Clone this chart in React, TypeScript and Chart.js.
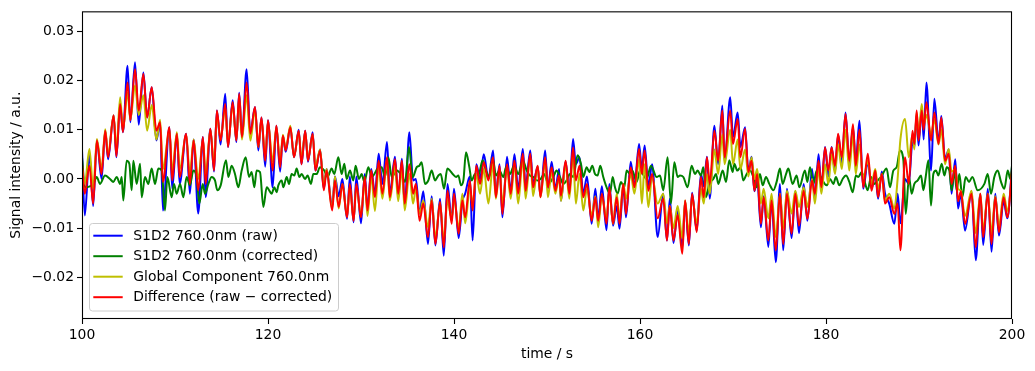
import React, { useEffect, useRef } from "react";
import { Chart, registerables } from "chart.js";

Chart.register(...registerables);

// ---------------- data ----------------
const seriesLabels = [
  "S1D2 760.0nm (raw)",
  "S1D2 760.0nm (corrected)",
  "Global Component 760.0nm",
  "Difference (raw \u2212 corrected)",
];

const xTicks = [100, 120, 140, 160, 180, 200];
const xTickLabels = ["100", "120", "140", "160", "180", "200"];
const yTicks = [-0.02, -0.01, 0.0, 0.01, 0.02, 0.03];
const yTickLabels = ["\u22120.02", "\u22120.01", "0.00", "0.01", "0.02", "0.03"];

// time stamps (s) of the turning points of raw / global / difference traces
const rawTimes = [
  100.0, 100.3, 100.8, 101.2, 101.6, 102.1, 102.5, 102.8, 103.4, 103.7,
  104.1, 104.4, 104.9, 105.2, 105.7, 106.1, 106.6, 107.0, 107.5, 108.0,
  108.4, 108.7, 109.4, 109.7, 110.2, 110.5, 111.2, 111.6, 112.0, 112.5,
  113.0, 113.3, 113.8, 114.2, 114.5, 114.9, 115.4, 115.7, 116.2, 116.6,
  116.9, 117.2, 117.7, 118.1, 118.6, 118.96, 119.3, 119.7, 120.0, 120.5,
  120.9, 121.3, 121.6, 121.9, 122.4, 122.8, 123.3, 123.6, 124.0, 124.3,
  124.8, 125.1, 125.6, 126.0, 126.3, 126.9, 127.2, 127.6, 128.0, 128.5,
  128.8, 129.2, 129.5, 130.0, 130.4, 130.7, 131.1, 131.5, 131.9, 132.3,
  132.8, 133.1, 133.65, 134.0, 134.4, 134.7, 135.2, 135.6, 135.9, 136.3,
  136.7, 137.2, 137.6, 138.0, 138.5, 138.9, 139.3, 139.75, 140.0, 140.5,
  140.9, 141.2, 141.7, 142.0, 142.4, 142.8, 143.2, 143.7, 144.2, 144.5,
  144.9, 145.2, 145.7, 146.1, 146.5, 146.9, 147.4, 147.7, 148.2, 148.5,
  149.0, 149.3, 149.8, 150.1, 150.5, 150.9, 151.3, 151.5, 152.0, 152.4,
  152.8, 153.1, 153.5, 153.9, 154.3, 154.8, 155.2, 155.5, 155.9, 156.4,
  156.7, 157.1, 157.5, 157.8, 158.2, 158.5, 159.0, 159.4, 159.9, 160.2,
  160.5, 160.9, 161.3, 161.9, 162.5, 162.9, 163.2, 163.6, 164.05, 164.55,
  164.85, 165.25, 165.6, 166.1, 166.55, 166.85, 167.2, 167.5, 168.0, 168.4,
  168.85, 169.1, 169.7, 170.0, 170.5, 170.8, 171.3, 171.65, 172.0, 172.3,
  172.6, 173.0, 173.3, 173.8, 174.15, 174.6, 175.05, 175.4, 175.8, 176.3,
  176.7, 177.1, 177.6, 178.0, 178.5, 178.8, 179.2, 179.5, 179.9, 180.25,
  180.6, 180.97, 181.3, 181.7, 182.1, 182.5, 182.9, 183.2, 183.6, 184.0,
  184.5, 184.9, 185.3, 185.6, 186.0, 186.35, 186.8, 187.35, 187.7, 188.0,
  188.5, 188.9, 189.3, 189.5, 189.75, 189.95, 190.3, 190.5, 190.8, 191.3,
  191.65, 192.1, 192.4, 192.8, 193.2, 193.5, 193.9, 194.2, 194.5, 194.95,
  195.65, 196.1, 196.6, 196.9, 197.4, 197.8, 198.2, 198.6, 199.1, 199.5,
  200.0,
];

const rawValues = [
  5.8e-3, -7.4e-3, 5.0e-3, -5.5e-3, 7.8e-3, 0.0e-3, 9.8e-3, 4.0e-3, 12.9e-3, 4.4e-3,
  15.2e-3, 9.5e-3, 23.0e-3, 11.5e-3, 23.7e-3, 11.0e-3, 21.6e-3, 12.5e-3, 18.6e-3, 7.8e-3,
  11.5e-3, -6.4e-3, 10.5e-3, -2.0e-3, 9.2e-3, -1.0e-3, 9.2e-3, -3.0e-3, 8.0e-3, -7.0e-3,
  8.5e-3, -3.7e-3, 10.2e-3, 1.5e-3, 13.9e-3, 7.0e-3, 17.3e-3, 6.5e-3, 16.0e-3, 7.5e-3,
  17.5e-3, 8.5e-3, 22.3e-3, 9.2e-3, 14.6e-3, 5.8e-3, 12.5e-3, 2.5e-3, 11.9e-3, -1.7e-3,
  10.8e-3, 1.5e-3, 8.8e-3, 5.5e-3, 10.5e-3, 4.4e-3, 10.0e-3, 3.0e-3, 9.8e-3, 3.5e-3,
  9.5e-3, 1.7e-3, 6.0e-3, -2.0e-3, 2.0e-3, -5.5e-3, 0.5e-3, -3.5e-3, 0.0e-3, -8.1e-3,
  0.5e-3, -8.8e-3, 0.5e-3, -9.0e-3, 1.0e-3, -6.0e-3, 2.0e-3, -3.0e-3, 5.1e-3, -1.0e-3,
  7.5e-3, -3.0e-3, 4.5e-3, -3.7e-3, 4.1e-3, -5.5e-3, 9.5e-3, -0.3e-3, 0.0e-3, -7.0e-3,
  -2.5e-3, -13.2e-3, -3.5e-3, -13.5e-3, -4.0e-3, -15.6e-3, -1.0e-3, -8.5e-3, -2.0e-3, -12.0e-3,
  -4.5e-3, -3.0e-3, 0.5e-3, -12.5e-3, 3.0e-3, 0.0e-3, 5.0e-3, 0.0e-3, 5.8e-3, -3.0e-3,
  3.0e-3, -7.8e-3, 4.5e-3, -2.5e-3, 5.0e-3, -2.0e-3, 6.1e-3, -1.5e-3, 5.8e-3, -1.0e-3,
  2.5e-3, -3.5e-3, 5.8e-3, -2.0e-3, 3.5e-3, -2.0e-3, 2.0e-3, -4.4e-3, 3.5e-3, -2.5e-3,
  8.1e-3, 3.0e-3, 4.4e-3, -3.0e-3, 0.5e-3, -9.1e-3, -2.0e-3, -8.0e-3, -1.5e-3, -10.4e-3,
  -1.0e-3, -9.5e-3, -5.5e-3, -10.1e-3, -1.5e-3, -7.8e-3, 3.5e-3, -1.5e-3, 7.1e-3, 2.0e-3,
  6.8e-3, -1.5e-3, 3.0e-3, -11.8e-3, -3.0e-3, -12.5e-3, -4.0e-3, -13.0e-3, -6.5e-3, -14.0e-3,
  -4.5e-3, -13.5e-3, -2.8e-3, -10.5e-3, 1.0e-3, -1.5e-3, 4.5e-3, -4.0e-3, 10.8e-3, 3.0e-3,
  14.9e-3, 3.5e-3, 16.6e-3, 8.5e-3, 13.5e-3, 6.5e-3, 10.5e-3, 1.5e-3, 4.5e-3, -2.5e-3,
  0.0e-3, -9.8e-3, -3.5e-3, -13.8e-3, -4.5e-3, -16.9e-3, -1.0e-3, -14.5e-3, -2.0e-3, -12.0e-3,
  -2.5e-3, -11.0e-3, -1.0e-3, -8.5e-3, 2.0e-3, -4.0e-3, 5.0e-3, -2.0e-3, 6.5e-3, 0.5e-3,
  6.5e-3, 1.5e-3, 9.0e-3, 3.0e-3, 13.5e-3, 3.0e-3, 10.5e-3, 3.5e-3, 11.8e-3, -2.0e-3,
  3.5e-3, -2.0e-3, 1.0e-3, -4.0e-3, 1.5e-3, -3.0e-3, -5.0e-3, -9.1e-3, -3.0e-3, -9.0e-3,
  0.0e-3, -1.0e-3, 7.5e-3, 6.5e-3, 13.0e-3, 6.8e-3, 14.5e-3, 8.0e-3, 19.6e-3, 1.7e-3,
  16.3e-3, 7.5e-3, 12.8e-3, 4.0e-3, 6.0e-3, -3.0e-3, 4.0e-3, -6.0e-3, -3.0e-3, -10.5e-3,
  -2.5e-3, -16.5e-3, -3.0e-3, -13.4e-3, -2.0e-3, -14.8e-3, -3.0e-3, -11.5e-3, -4.5e-3, -8.0e-3,
  2.4e-3,
];

const globalValues = [
  2.0e-3, -1.0e-3, 6.1e-3, -2.0e-3, 8.1e-3, 2.0e-3, 10.1e-3, 5.0e-3, 12.9e-3, 6.0e-3,
  16.6e-3, 10.0e-3, 17.5e-3, 12.0e-3, 19.0e-3, 13.0e-3, 17.0e-3, 9.8e-3, 15.0e-3, 8.0e-3,
  12.0e-3, 2.0e-3, 10.0e-3, 1.5e-3, 9.5e-3, 2.0e-3, 9.0e-3, 1.0e-3, 8.0e-3, 0.0e-3,
  8.0e-3, 1.0e-3, 10.0e-3, 3.0e-3, 13.0e-3, 8.0e-3, 14.5e-3, 7.0e-3, 15.0e-3, 8.0e-3,
  16.5e-3, 8.0e-3, 17.0e-3, 7.8e-3, 14.0e-3, 6.5e-3, 12.0e-3, 4.5e-3, 11.5e-3, 3.5e-3,
  10.5e-3, 3.5e-3, 9.0e-3, 6.0e-3, 10.8e-3, 4.5e-3, 9.5e-3, 4.0e-3, 9.5e-3, 4.0e-3,
  9.0e-3, 2.5e-3, 6.0e-3, -1.5e-3, 2.0e-3, -6.0e-3, 0.5e-3, -6.0e-3, -1.0e-3, -7.5e-3,
  -1.5e-3, -8.0e-3, -1.5e-3, -7.5e-3, -0.5e-3, -7.5e-3, 0.5e-3, -6.5e-3, 2.5e-3, -4.0e-3,
  3.5e-3, -4.4e-3, 2.5e-3, -4.5e-3, 2.0e-3, -6.4e-3, 1.0e-3, -5.0e-3, -2.0e-3, -7.0e-3,
  -4.4e-3, -9.8e-3, -4.0e-3, -12.0e-3, -5.0e-3, -12.5e-3, -4.4e-3, -8.0e-3, -4.0e-3, -10.0e-3,
  -3.0e-3, -9.0e-3, -2.0e-3, -5.0e-3, 1.0e-3, -3.0e-3, 2.0e-3, -5.0e-3, 3.0e-3, -4.0e-3,
  2.0e-3, -5.0e-3, 2.0e-3, -4.0e-3, 3.0e-3, -5.0e-3, 4.0e-3, -4.0e-3, 4.5e-3, -3.5e-3,
  2.5e-3, -3.7e-3, 3.5e-3, -3.7e-3, 1.5e-3, -3.0e-3, 0.5e-3, -4.5e-3, 3.0e-3, -4.0e-3,
  5.0e-3, -5.0e-3, 1.0e-3, -6.4e-3, -2.0e-3, -7.5e-3, -3.5e-3, -9.8e-3, -3.5e-3, -8.0e-3,
  -2.5e-3, -9.1e-3, -3.0e-3, -8.0e-3, -1.0e-3, -4.0e-3, 1.0e-3, -3.0e-3, 4.0e-3, -5.0e-3,
  3.0e-3, -5.7e-3, 0.5e-3, -5.0e-3, -3.0e-3, -9.0e-3, -5.5e-3, -10.0e-3, -5.5e-3, -12.0e-3,
  -4.4e-3, -11.0e-3, -3.7e-3, -9.0e-3, -2.0e-3, -5.0e-3, 1.0e-3, -3.0e-3, 6.0e-3, 1.0e-3,
  9.0e-3, 3.0e-3, 10.0e-3, 3.0e-3, 8.0e-3, 2.0e-3, 6.0e-3, 0.5e-3, 4.4e-3, 0.0e-3,
  2.0e-3, -5.0e-3, -2.0e-3, -8.0e-3, -3.0e-3, -11.8e-3, -3.0e-3, -10.0e-3, -2.4e-3, -7.0e-3,
  -2.4e-3, -5.7e-3, -1.7e-3, -5.7e-3, 0.0e-3, -5.0e-3, 2.0e-3, -3.0e-3, 3.0e-3, -1.0e-3,
  5.0e-3, 1.0e-3, 7.0e-3, 2.0e-3, 10.0e-3, 1.7e-3, 9.0e-3, 1.0e-3, 7.0e-3, 0.0e-3,
  3.7e-3, -1.0e-3, 2.0e-3, -2.0e-3, 1.0e-3, -4.4e-3, -3.0e-3, -6.0e-3, 0.0e-3, 8.0e-3,
  12.2e-3, 4.4e-3, 9.0e-3, 6.0e-3, 13.5e-3, 9.0e-3, 15.2e-3, 11.0e-3, 13.0e-3, 9.1e-3,
  12.0e-3, 7.0e-3, 10.0e-3, 3.0e-3, 6.1e-3, 1.5e-3, 2.0e-3, -2.0e-3, -2.4e-3, -7.5e-3,
  -2.4e-3, -11.0e-3, -3.0e-3, -10.5e-3, -3.0e-3, -11.0e-3, -3.5e-3, -9.5e-3, -3.0e-3, -6.5e-3,
  0.0e-3,
];

const differenceValues = [
  3.0e-3, -3.0e-3, 2.7e-3, -5.0e-3, 7.8e-3, 1.0e-3, 9.8e-3, 4.4e-3, 12.9e-3, 4.6e-3,
  15.2e-3, 9.5e-3, 19.6e-3, 11.9e-3, 22.3e-3, 13.9e-3, 21.3e-3, 12.5e-3, 18.6e-3, 9.8e-3,
  11.5e-3, -0.6e-3, 10.5e-3, -0.3e-3, 9.2e-3, 0.4e-3, 9.2e-3, -1.0e-3, 7.8e-3, -2.3e-3,
  8.5e-3, -1.0e-3, 10.2e-3, 1.7e-3, 13.9e-3, 7.8e-3, 15.2e-3, 6.5e-3, 15.6e-3, 7.8e-3,
  17.3e-3, 8.5e-3, 19.6e-3, 9.2e-3, 14.6e-3, 6.5e-3, 12.5e-3, 3.7e-3, 11.9e-3, 1.7e-3,
  10.8e-3, 2.4e-3, 8.8e-3, 5.8e-3, 10.5e-3, 4.4e-3, 9.8e-3, 3.0e-3, 9.8e-3, 3.7e-3,
  9.2e-3, 1.7e-3, 5.8e-3, -2.3e-3, 1.7e-3, -6.4e-3, -0.3e-3, -5.7e-3, -1.0e-3, -7.8e-3,
  -1.0e-3, -8.5e-3, -1.0e-3, -7.8e-3, 0.4e-3, -6.4e-3, 1.7e-3, -3.7e-3, 3.7e-3, -3.0e-3,
  4.4e-3, -3.7e-3, 4.0e-3, -3.0e-3, 3.7e-3, -5.0e-3, 3.0e-3, -3.0e-3, -1.0e-3, -8.5e-3,
  -5.0e-3, -11.8e-3, -4.4e-3, -13.2e-3, -4.7e-3, -13.9e-3, -2.4e-3, -9.1e-3, -3.0e-3, -11.1e-3,
  -4.4e-3, -7.8e-3, -0.3e-3, -6.4e-3, 2.7e-3, -1.0e-3, 3.4e-3, -0.3e-3, 4.4e-3, -3.7e-3,
  2.7e-3, -7.1e-3, 3.0e-3, -3.0e-3, 3.7e-3, -3.0e-3, 5.1e-3, -2.4e-3, 5.1e-3, -1.7e-3,
  2.7e-3, -3.7e-3, 4.4e-3, -1.7e-3, 2.4e-3, -2.4e-3, 0.7e-3, -3.4e-3, 3.7e-3, -3.0e-3,
  6.4e-3, -0.3e-3, 2.7e-3, -3.7e-3, -1.0e-3, -8.5e-3, -3.7e-3, -8.5e-3, -3.0e-3, -9.1e-3,
  -1.7e-3, -9.1e-3, -3.7e-3, -9.1e-3, -1.0e-3, -7.1e-3, 2.4e-3, -1.7e-3, 6.1e-3, 1.0e-3,
  5.8e-3, -2.4e-3, 1.0e-3, -8.0e-3, -4.0e-3, -12.5e-3, -5.5e-3, -12.5e-3, -7.3e-3, -15.2e-3,
  -4.4e-3, -13.2e-3, -3.0e-3, -10.8e-3, 0.4e-3, -3.7e-3, 4.4e-3, -1.0e-3, 9.8e-3, 3.7e-3,
  13.9e-3, 4.4e-3, 13.9e-3, 7.1e-3, 12.2e-3, 4.4e-3, 10.2e-3, 1.4e-3, 3.7e-3, -2.4e-3,
  1.0e-3, -9.1e-3, -3.7e-3, -12.5e-3, -4.4e-3, -14.5e-3, -3.0e-3, -13.2e-3, -3.0e-3, -11.1e-3,
  -3.0e-3, -9.5e-3, -2.4e-3, -8.1e-3, -0.3e-3, -3.0e-3, 3.7e-3, -1.7e-3, 6.4e-3, 1.7e-3,
  6.4e-3, 2.7e-3, 9.2e-3, 4.4e-3, 13.2e-3, 3.7e-3, 11.1e-3, 2.7e-3, 10.0e-3, -1.7e-3,
  5.1e-3, -2.4e-3, 1.7e-3, -3.7e-3, 1.0e-3, -5.0e-3, -3.7e-3, -7.1e-3, -5.0e-3, -14.5e-3,
  4.4e-3, -1.0e-3, 9.8e-3, 7.1e-3, 13.9e-3, 7.8e-3, 13.9e-3, 10.0e-3, 15.6e-3, 7.8e-3,
  13.5e-3, 7.1e-3, 12.5e-3, 3.7e-3, 5.1e-3, -1.0e-3, 2.7e-3, -4.5e-3, -2.5e-3, -9.1e-3,
  -3.0e-3, -13.9e-3, -3.0e-3, -11.8e-3, -3.0e-3, -13.2e-3, -3.7e-3, -10.8e-3, -3.7e-3, -7.8e-3,
  1.7e-3,
];

// turning points of the corrected trace
const correctedTimes = [
  100.0, 100.32, 101.22, 101.58, 101.94, 102.47, 103.01, 103.37, 103.73, 104.09,
  104.27, 104.44, 104.8, 105.09, 105.34, 105.52, 105.88, 106.24, 106.42, 106.77,
  107.13, 107.49, 107.85, 108.21, 108.57, 108.92, 109.18, 109.64, 109.89, 110.18,
  110.54, 110.9, 111.25, 111.61, 111.97, 112.33, 112.62, 112.98, 113.23, 113.59,
  113.94, 114.3, 114.55, 114.91, 115.48, 115.74, 116.09, 116.45, 116.81, 117.17,
  117.6, 117.96, 118.24, 118.53, 118.78, 119.14, 119.5, 119.86, 120.03, 120.39,
  120.68, 120.93, 121.11, 121.47, 121.65, 122.01, 122.26, 122.54, 122.83, 123.08,
  123.37, 123.62, 123.98, 124.26, 124.62, 124.87, 125.23, 125.59, 126.06, 126.41,
  126.84, 127.13, 127.56, 127.92, 128.21, 128.46, 128.82, 129.17, 129.42, 129.78,
  130.07, 130.36, 130.79, 131.15, 131.79, 132.22, 132.58, 132.94, 133.3, 133.84,
  134.37, 134.73, 135.16, 135.56, 135.99, 136.27, 136.52, 136.88, 137.24, 137.6,
  137.96, 138.32, 138.57, 138.93, 139.28, 139.57, 139.86, 140.22, 140.47, 140.75,
  141.01, 141.29, 141.65, 141.9, 142.26, 142.62, 143.08, 143.44, 143.8, 144.16,
  144.52, 144.88, 145.31, 145.59, 146.02, 146.45, 146.92, 147.39, 147.82, 148.17,
  148.53, 148.96, 149.32, 149.68, 150.14, 150.68, 151.03, 151.39, 151.75, 152.11,
  152.47, 152.83, 153.29, 153.65, 153.9, 154.26, 154.55, 154.87, 155.16, 155.44,
  155.73, 156.05, 156.41, 156.77, 157.06, 157.31, 157.59, 157.95, 158.31, 158.56,
  158.92, 159.17, 159.64, 160.0, 160.71, 161.18, 161.79, 162.15, 162.5, 162.97,
  163.33, 163.69, 164.05, 164.3, 164.66, 165.12, 165.55, 165.91, 166.2, 166.55,
  166.81, 167.1, 167.45, 167.88, 168.17, 168.42, 168.89, 169.25, 169.6, 169.96,
  170.14, 170.46, 170.82, 171.11, 171.47, 171.83, 172.18, 172.54, 172.9, 173.19,
  173.55, 173.9, 174.34, 174.69, 175.05, 175.34, 175.7, 175.95, 176.41, 176.84,
  177.13, 177.74, 177.99, 178.28, 178.64, 179.0, 179.35, 180.07, 180.43, 180.79,
  181.07, 181.43, 181.79, 182.15, 182.51, 182.87, 183.22, 183.48, 183.84, 184.12,
  184.48, 184.84, 185.2, 185.56, 185.92, 186.52, 186.88, 187.24, 187.6, 187.96,
  188.32, 188.57, 188.93, 189.21, 189.5, 189.86, 190.22, 190.47, 190.72, 191.01,
  191.29, 191.54, 191.83, 192.08, 192.44, 192.73, 192.98, 193.26, 193.51, 193.8,
  194.05, 194.34, 194.66, 195.02, 195.38, 195.74, 196.31, 197.03, 197.39, 197.74,
  198.1, 198.46, 198.82, 199.18, 199.54, 199.82, 200.0,
];

const correctedValues = [
  4.4e-3, -1.7e-3, -1.0e-3, 0.4e-3, -1.0e-3, 0.7e-3, 0.0e-3, -0.6e-3, 0.4e-3, -1.0e-3,
  0.4e-3, -4.4e-3, 3.7e-3, 3.1e-3, -2.3e-3, 3.7e-3, -1.0e-3, 3.1e-3, -3.7e-3, 0.4e-3,
  -1.0e-3, 2.1e-3, -1.0e-3, 2.1e-3, 1.7e-3, -6.4e-3, 0.4e-3, -3.7e-3, -1.0e-3, -3.0e-3,
  -1.0e-3, -3.7e-3, 0.4e-3, -1.3e-3, 1.7e-3, 0.4e-3, -5.0e-3, -1.0e-3, -3.0e-3, -1.0e-3,
  0.4e-3, -0.3e-3, -2.3e-3, -1.3e-3, 3.8e-3, 0.4e-3, 2.7e-3, 1.0e-3, -1.7e-3, 1.7e-3,
  4.4e-3, 0.4e-3, 1.4e-3, -1.7e-3, 1.7e-3, 1.4e-3, -5.7e-3, -1.7e-3, -2.0e-3, -3.0e-3,
  -1.7e-3, -2.7e-3, -1.3e-3, -0.3e-3, -1.7e-3, 0.4e-3, -1.0e-3, 1.0e-3, 0.7e-3, 2.1e-3,
  0.4e-3, 1.0e-3, 0.0e-3, 0.7e-3, -1.0e-3, 1.0e-3, 1.0e-3, 2.4e-3, 1.7e-3, 0.4e-3,
  2.1e-3, 1.0e-3, 4.4e-3, 1.0e-3, 3.1e-3, 0.0e-3, 1.7e-3, -0.3e-3, 2.7e-3, 0.0e-3,
  1.0e-3, -0.6e-3, 2.4e-3, 0.4e-3, 2.1e-3, 2.4e-3, 0.4e-3, 4.4e-3, 0.4e-3, 1.7e-3,
  0.7e-3, -0.6e-3, 6.5e-3, 0.4e-3, 2.4e-3, 2.7e-3, 3.4e-3, -1.0e-3, -0.3e-3, 1.7e-3,
  -0.3e-3, 0.7e-3, 1.0e-3, -2.0e-3, 2.1e-3, 1.7e-3, 1.0e-3, 0.4e-3, 0.7e-3, -1.3e-3,
  -0.3e-3, 5.4e-3, 2.4e-3, -0.3e-3, 1.0e-3, 0.7e-3, 3.8e-3, 1.7e-3, 0.4e-3, 4.1e-3,
  0.7e-3, 1.7e-3, 0.4e-3, 2.4e-3, 1.0e-3, 2.7e-3, 1.0e-3, 3.8e-3, 1.7e-3, 0.7e-3,
  0.4e-3, -0.3e-3, 0.0e-3, 1.0e-3, -1.0e-3, 0.4e-3, 1.7e-3, 0.4e-3, -1.0e-3, -0.3e-3,
  1.0e-3, 0.4e-3, 4.8e-3, 3.1e-3, 0.4e-3, 2.4e-3, 1.4e-3, 2.7e-3, 1.0e-3, 0.7e-3,
  2.7e-3, 0.4e-3, -1.7e-3, -3.0e-3, 0.4e-3, -1.7e-3, -3.0e-3, -0.6e-3, -1.7e-3, 1.7e-3,
  1.0e-3, 1.7e-3, -0.6e-3, 1.7e-3, 0.0e-3, 2.7e-3, 0.4e-3, 0.7e-3, -2.3e-3, 4.4e-3,
  -5.0e-3, 3.4e-3, 0.4e-3, 0.7e-3, 0.4e-3, -1.7e-3, 2.7e-3, 1.0e-3, 1.7e-3, 0.7e-3,
  2.4e-3, -3.7e-3, -1.0e-3, 0.0e-3, 1.0e-3, -1.0e-3, 1.7e-3, -0.6e-3, 3.8e-3, 1.4e-3,
  3.1e-3, 1.7e-3, 2.4e-3, -0.3e-3, 1.0e-3, 1.7e-3, 0.4e-3, -1.7e-3, 1.0e-3, -1.3e-3,
  0.4e-3, -1.0e-3, -2.3e-3, -0.6e-3, 2.1e-3, -1.0e-3, 1.0e-3, 2.1e-3, -1.0e-3, 0.7e-3,
  -1.7e-3, 1.7e-3, -0.6e-3, 2.4e-3, -1.0e-3, 1.7e-3, 0.7e-3, -1.3e-3, 0.0e-3, -1.0e-3,
  0.4e-3, -1.3e-3, 0.0e-3, 0.7e-3, -0.6e-3, -2.7e-3, 0.7e-3, 0.4e-3, 1.4e-3, -0.3e-3,
  -2.3e-3, 0.4e-3, -1.0e-3, -0.3e-3, 0.4e-3, 2.1e-3, -1.7e-3, 1.7e-3, 2.4e-3, 5.8e-3,
  3.8e-3, -7.1e-3, 0.4e-3, -3.0e-3, -1.0e-3, -0.3e-3, 0.7e-3, -2.3e-3, 0.4e-3, 3.8e-3,
  -5.4e-3, 1.0e-3, 1.7e-3, 0.7e-3, 3.1e-3, 0.7e-3, 2.4e-3, 1.7e-3, -2.3e-3, 1.7e-3,
  -2.3e-3, 1.0e-3, -3.7e-3, 0.4e-3, -0.6e-3, 0.4e-3, -2.3e-3, -1.0e-3, 1.0e-3, -3.0e-3,
  0.4e-3, 1.7e-3, -0.6e-3, -2.0e-3, 1.7e-3, 0.0e-3, 2.7e-3,
];

const seriesColors = ["#0000ff", "#008000", "#bfbf00", "#ff0000"];

// ---------------- chart ----------------
const FONT = '"DejaVu Sans", "Liberation Sans", sans-serif';
const FS = 13.9;

const toPoints = (ts: number[], vs: number[]) => ts.map((t, i) => ({ x: t, y: vs[i] }));

const decorPlugin = {
  id: "decor",
  afterDraw(chart: any) {
    const { ctx, chartArea } = chart;
    const { left, right, top, bottom } = chartArea;
    ctx.save();
    // frame
    ctx.strokeStyle = "#000";
    ctx.lineWidth = 1.1;
    ctx.strokeRect(left + 0.5, top + 0.5, right - left - 1, bottom - top - 1);
    // axis titles
    ctx.fillStyle = "#000";
    ctx.font = `${FS}px ${FONT}`;
    ctx.textAlign = "center";
    ctx.textBaseline = "middle";
    ctx.fillText("time / s", (left + right) / 2, 354);
    ctx.save();
    ctx.translate(16.5, (top + bottom) / 2);
    ctx.rotate(-Math.PI / 2);
    ctx.fillText("Signal intensity / a.u.", 0, 0);
    ctx.restore();
    // legend
    const bx = 89.5, by = 223.5, bw = 249, bh = 87.5, r = 3;
    ctx.beginPath();
    ctx.moveTo(bx + r, by);
    ctx.lineTo(bx + bw - r, by);
    ctx.quadraticCurveTo(bx + bw, by, bx + bw, by + r);
    ctx.lineTo(bx + bw, by + bh - r);
    ctx.quadraticCurveTo(bx + bw, by + bh, bx + bw - r, by + bh);
    ctx.lineTo(bx + r, by + bh);
    ctx.quadraticCurveTo(bx, by + bh, bx, by + bh - r);
    ctx.lineTo(bx, by + r);
    ctx.quadraticCurveTo(bx, by, bx + r, by);
    ctx.closePath();
    ctx.fillStyle = "rgba(255,255,255,0.8)";
    ctx.fill();
    ctx.strokeStyle = "#cccccc";
    ctx.lineWidth = 1;
    ctx.stroke();
    const rows = [235.7, 256.2, 276.7, 297.2];
    seriesLabels.forEach((lab, i) => {
      ctx.strokeStyle = seriesColors[i];
      ctx.lineWidth = 2;
      ctx.beginPath();
      ctx.moveTo(93.3, rows[i]);
      ctx.lineTo(122.7, rows[i]);
      ctx.stroke();
      ctx.fillStyle = "#000";
      ctx.textAlign = "left";
      ctx.textBaseline = "middle";
      ctx.fillText(lab, 133.3, rows[i] + 0.5);
    });
    ctx.restore();
  },
};

export default function App() {
  const ref = useRef<HTMLCanvasElement>(null);
  useEffect(() => {
    const common = {
      borderWidth: 2,
      pointRadius: 0,
      pointHoverRadius: 0,
      fill: false,
      cubicInterpolationMode: "monotone" as const,
    };
    const chart = new Chart(ref.current!, {
      type: "line",
      data: {
        datasets: [
          { ...common, label: seriesLabels[0], data: toPoints(rawTimes, rawValues), borderColor: seriesColors[0], order: 4 },
          { ...common, label: seriesLabels[1], data: toPoints(correctedTimes, correctedValues), borderColor: seriesColors[1], order: 3 },
          { ...common, label: seriesLabels[2], data: toPoints(rawTimes, globalValues), borderColor: seriesColors[2], order: 2 },
          { ...common, label: seriesLabels[3], data: toPoints(rawTimes, differenceValues), borderColor: seriesColors[3], order: 1 },
        ],
      },
      options: {
        animation: false,
        responsive: false,
        devicePixelRatio: 1,
        events: [],
        layout: { padding: { top: 11, right: 23, left: 0, bottom: 0 } },
        plugins: { legend: { display: false }, tooltip: { enabled: false } },
        scales: {
          x: {
            type: "linear",
            min: 100,
            max: 200,
            afterBuildTicks: (s: any) => {
              s.ticks = xTicks.map((v) => ({ value: v }));
            },
            afterFit: (s: any) => {
              s.height = 52;
            },
            ticks: {
              autoSkip: false,
              maxRotation: 0,
              padding: 3,
              color: "#000",
              font: { family: FONT, size: FS },
              callback: (v: any) => {
                const i = xTicks.findIndex((t) => Math.abs(t - v) < 1e-9);
                return i >= 0 ? xTickLabels[i] : "";
              },
            },
            grid: { display: true, drawOnChartArea: false, drawTicks: true, tickLength: 5, tickColor: "#000", tickWidth: 1.1, color: "#000" },
            border: { display: false },
          },
          y: {
            type: "linear",
            min: -0.02844,
            max: 0.03404,
            afterBuildTicks: (s: any) => {
              s.ticks = yTicks.map((v) => ({ value: v }));
            },
            afterFit: (s: any) => {
              s.width = 82;
            },
            ticks: {
              autoSkip: false,
              padding: 3,
              color: "#000",
              font: { family: FONT, size: FS },
              callback: (v: any) => {
                const i = yTicks.findIndex((t) => Math.abs(t - v) < 1e-9);
                return i >= 0 ? yTickLabels[i] : "";
              },
            },
            grid: { display: true, drawOnChartArea: false, drawTicks: true, tickLength: 5, tickColor: "#000", tickWidth: 1.1, color: "#000" },
            border: { display: false },
          },
        },
      },
      plugins: [decorPlugin],
    } as any);
    return () => chart.destroy();
  }, []);
  return (
    <div style={{ position: "absolute", left: 0, top: 0, width: 1035, height: 371, background: "#fff" }}>
      <canvas ref={ref} width={1035} height={371} style={{ display: "block" }} />
    </div>
  );
}
